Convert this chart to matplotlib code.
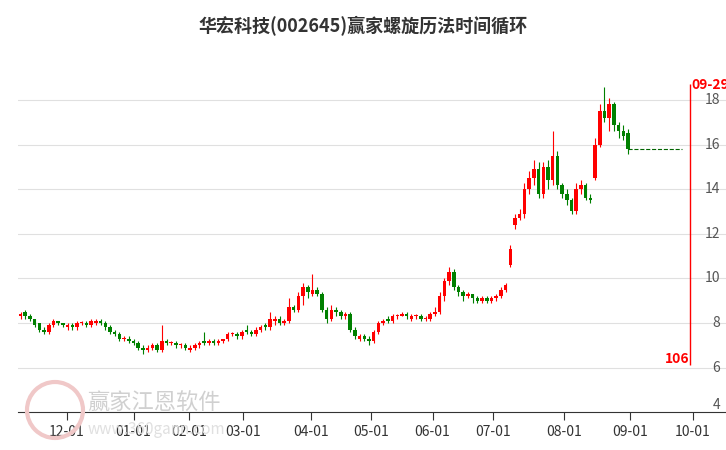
import matplotlib
matplotlib.use('Agg')
import matplotlib.pyplot as plt
from matplotlib.patches import Circle

plt.rcParams['font.family'] = ['Noto Sans CJK SC', 'DejaVu Sans']

# 日K数据 (按交易日顺序)
closes = [8.4, 8.3, 8.2, 7.9, 7.7, 7.6, 7.9, 8.1, 8.0, 7.9,
          7.9, 7.8, 8.0, 8.0, 7.9, 8.1, 8.1, 8.0, 7.8, 7.6, 7.5, 7.3, 7.3, 7.2,
          7.1, 6.9, 6.8, 6.9, 7.0, 6.8, 7.2, 7.1, 7.1, 7.0, 7.0, 6.9,
          6.9, 7.0, 7.1, 7.1, 7.2, 7.1, 7.2, 7.3, 7.5, 7.5, 7.4, 7.6,
          7.6, 7.5, 7.7, 7.8, 7.8, 8.2, 8.2, 8.0, 8.1, 8.7, 8.6, 9.2, 9.6, 9.4,
          9.5, 9.3, 8.6, 8.2, 8.6, 8.5, 8.3, 8.4, 7.7, 7.4, 7.4, 7.3, 7.2,
          7.6, 8.0, 8.1, 8.1, 8.3, 8.3, 8.4, 8.3, 8.3, 8.3, 8.2, 8.2, 8.4,
          8.5, 9.2, 9.9, 10.3, 9.6, 9.4, 9.2, 9.3, 9.1, 9.0, 9.1, 9.0, 9.1,
          9.2, 9.5, 9.7, 11.3, 12.7, 12.9, 14.0, 14.5, 14.9, 13.8, 15.0, 14.4, 15.5, 14.2, 13.8,
          13.5, 13.0, 14.0, 14.2, 13.6, 13.5, 16.0, 17.5, 17.2, 17.8, 16.9, 16.6, 16.4, 15.8]
opens = [8.3, 8.5, 8.3, 8.2, 8.0, 7.7, 7.6, 7.9, 8.1, 8.0,
         7.8, 7.9, 7.8, 8.0, 8.0, 7.9, 8.0, 8.1, 8.0, 7.8, 7.6, 7.5, 7.3, 7.3,
         7.2, 7.1, 6.9, 6.8, 6.9, 7.0, 6.8, 7.2, 7.1, 7.1, 7.0, 7.0,
         6.8, 6.9, 7.0, 7.2, 7.1, 7.2, 7.1, 7.2, 7.3, 7.5, 7.5, 7.4,
         7.7, 7.6, 7.5, 7.7, 7.9, 7.8, 8.1, 8.2, 8.0, 8.1, 8.7, 8.6, 9.2, 9.6,
         9.3, 9.5, 9.3, 8.6, 8.2, 8.6, 8.5, 8.3, 8.4, 7.7, 7.3, 7.4, 7.3,
         7.2, 7.6, 8.0, 8.2, 8.1, 8.3, 8.3, 8.4, 8.2, 8.3, 8.3, 8.2, 8.2,
         8.4, 8.5, 9.2, 9.9, 10.3, 9.6, 9.4, 9.2, 9.3, 9.1, 9.0, 9.1, 9.0,
         9.1, 9.2, 9.5, 10.6, 12.4, 12.7, 12.9, 14.0, 14.5, 14.9, 13.8, 15.0, 14.4, 15.5, 14.2,
         13.8, 13.5, 13.0, 14.0, 14.2, 13.6, 14.5, 16.0, 17.5, 17.2, 17.8, 16.9, 16.6, 16.5]
highs = [8.5, 8.6, 8.4, 8.2, 8.0, 7.8, 8.0, 8.2, 8.1, 8.0,
         8.0, 8.0, 8.1, 8.1, 8.1, 8.2, 8.2, 8.2, 8.1, 7.9, 7.7, 7.6, 7.4, 7.4,
         7.3, 7.2, 7.0, 7.0, 7.1, 7.1, 7.9, 7.3, 7.2, 7.2, 7.1, 7.1,
         7.0, 7.1, 7.2, 7.6, 7.3, 7.3, 7.3, 7.3, 7.6, 7.6, 7.6, 7.7,
         7.9, 7.7, 7.8, 7.9, 8.0, 8.5, 8.3, 8.3, 8.2, 9.1, 8.8, 9.4, 9.8, 9.7,
         10.2, 9.6, 9.4, 8.7, 8.8, 8.7, 8.6, 8.5, 8.5, 7.8, 7.5, 7.5, 7.4,
         7.7, 8.1, 8.2, 8.3, 8.4, 8.4, 8.5, 8.5, 8.4, 8.4, 8.4, 8.3, 8.5,
         8.7, 9.4, 10.0, 10.5, 10.4, 9.7, 9.5, 9.4, 9.3, 9.2, 9.2, 9.2, 9.2,
         9.3, 9.6, 9.8, 11.5, 12.9, 13.1, 14.3, 14.8, 15.3, 15.2, 15.2, 15.3, 16.6, 15.7, 14.3,
         14.0, 13.6, 14.3, 14.4, 14.3, 13.8, 16.3, 17.8, 18.6, 18.1, 17.9, 17.0, 16.9, 16.7]
lows = [8.2, 8.2, 8.1, 7.8, 7.6, 7.5, 7.5, 7.8, 7.9, 7.8,
        7.7, 7.7, 7.7, 7.9, 7.8, 7.8, 7.9, 7.9, 7.7, 7.5, 7.4, 7.2, 7.2, 7.1,
        7.0, 6.8, 6.6, 6.7, 6.8, 6.7, 6.7, 7.0, 7.0, 6.9, 6.9, 6.8,
        6.7, 6.8, 6.9, 7.0, 7.0, 7.0, 7.0, 7.1, 7.2, 7.4, 7.3, 7.3,
        7.5, 7.4, 7.4, 7.6, 7.7, 7.7, 7.9, 7.9, 7.9, 8.0, 8.5, 8.5, 8.8, 9.1,
        9.2, 9.2, 8.5, 8.0, 8.1, 8.3, 8.2, 8.2, 7.6, 7.3, 7.2, 7.2, 7.0,
        7.1, 7.5, 7.9, 8.0, 8.0, 8.2, 8.3, 8.2, 8.1, 8.2, 8.1, 8.1, 8.1,
        8.3, 8.4, 9.0, 9.7, 9.5, 9.2, 9.0, 9.1, 8.9, 8.9, 8.9, 8.9, 8.9,
        9.0, 9.1, 9.4, 10.5, 12.2, 12.6, 12.7, 13.8, 14.2, 13.6, 13.6, 14.0, 14.2, 14.0, 13.6,
        13.3, 12.9, 12.9, 13.8, 13.5, 13.4, 14.4, 15.9, 17.0, 16.6, 16.6, 16.3, 16.2, 15.6]

tick_pos = [9.8, 24, 35.7, 47.3, 61.6, 74.5, 87.5, 100.4, 115.5, 129.5, 142.7]
tick_labels = ['12-01', '01-01', '02-01', '03-01', '04-01', '05-01', '06-01',
               '07-01', '08-01', '09-01', '10-01']
y_ticks = [4, 6, 8, 10, 12, 14, 16, 18]
cycle_x = 142.2
cycle_date = '09-29'
cycle_days = '106'

fig = plt.figure(figsize=(7.26, 4.5), dpi=100)
ax = fig.add_axes([0.025, 0.084, 0.975, 0.783])

for i in range(len(closes)):
    o, c, h, l = opens[i], closes[i], highs[i], lows[i]
    col = '#ff0000' if c >= o else '#008000'
    ax.vlines(i, l, h, color=col, lw=0.8)
    ax.bar(i, max(abs(c - o), 0.04), bottom=min(o, c), width=0.75, color=col, lw=0)

last = closes[-1]
ax.hlines(last, len(closes) - 1, 140.5, colors='#006400', linestyles='--', lw=0.8)

ax.vlines(cycle_x, 6.1, 18.7, colors='#ff0000', lw=1)
ax.text(cycle_x + 0.3, 18.5, cycle_date, color='#ff0000', fontsize=10, fontweight='bold')
ax.text(cycle_x - 0.2, 6.2, cycle_days, color='#ff0000', fontsize=10, fontweight='bold', ha='right')

ax.set_xlim(-0.5, 149.8)
ax.set_ylim(4, 19.8)
for v in y_ticks[1:]:
    ax.axhline(v, color='#e0e0e0', lw=0.8, zorder=0)
    ax.text(148.5, v, str(v), ha='right', va='center', color='#555555', fontsize=10)
ax.text(148.5, 4, '4', ha='right', va='bottom', color='#555555', fontsize=10)
ax.set_yticks([])
ax.set_xticks(tick_pos)
ax.set_xticklabels(tick_labels, fontsize=10, color='#333333')
ax.tick_params(axis='x', length=6, color='#333333')
for s in ['top', 'right', 'left']:
    ax.spines[s].set_visible(False)
ax.spines['bottom'].set_color('#333333')

# 水印
fig.patches.append(Circle((55, 40), 28, transform=None, fill=False, ec='#f0c8c8', lw=3))
fig.text(0.12, 0.09, '赢家江恩软件', fontsize=16, color='#d0d0d0')
fig.text(0.12, 0.035, 'www.360gann.com', fontsize=11, color='#e0e0e0')

fig.suptitle('华宏科技(002645)赢家螺旋历法时间循环', fontsize=13, fontweight='bold',
             color='#333333', y=0.965)
fig.savefig('out.png', dpi=100)
